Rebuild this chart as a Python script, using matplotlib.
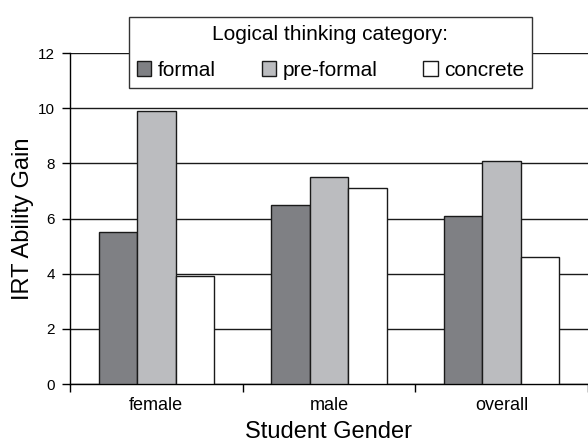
import numpy as np
import matplotlib.pyplot as plt
from matplotlib.patches import Patch

plt.rcParams['font.family'] = ['Liberation Sans', 'DejaVu Sans']

genders = ['female', 'male', 'overall']
categories = ['formal', 'pre-formal', 'concrete']
formal = [5.5, 6.5, 6.1]
pre_formal = [9.9, 7.5, 8.1]
concrete = [3.9, 7.1, 4.6]
colors = ['#7f8084', '#bbbcbf', '#ffffff']

fig = plt.figure(figsize=(5.88, 4.44), dpi=100)
ax = fig.add_axes([0.119, 0.135, 0.881, 0.7455])

x = np.arange(len(genders))
w = 0.223
series = [formal, pre_formal, concrete]
for i, vals in enumerate(series):
    ax.bar(x + (i - 1) * w, vals, width=w, color=colors[i],
           edgecolor='#1a1a1a', linewidth=1.0, zorder=3)

# grid lines
ax.set_ylim(0, 12)
ax.set_xlim(-0.5, 2.5)
ax.set_yticks(range(0, 13, 2))
ax.yaxis.grid(True, color='#1a1a1a', linewidth=1.0, zorder=0)
ax.set_axisbelow(True)

ax.set_xticks(x)
ax.set_xticklabels(genders, fontsize=13)
ax.set_xticks([-0.5, 0.5, 1.5, 2.5], minor=True)
ax.tick_params(axis='x', which='major', length=0, pad=9)
ax.tick_params(axis='x', which='minor', length=6, width=1, direction='out')
ax.tick_params(axis='y', length=6, width=1, labelsize=11, pad=5)

for s in ['top', 'right']:
    ax.spines[s].set_visible(False)
ax.spines['left'].set_linewidth(1)
ax.spines['bottom'].set_linewidth(1)

ax.set_ylabel('IRT Ability Gain', fontsize=17, labelpad=3)
ax.set_xlabel('Student Gender', fontsize=17, labelpad=5)

handles = [Patch(facecolor=colors[i], edgecolor='#1a1a1a', linewidth=1.0)
           for i in range(3)]
leg = fig.legend(handles, categories, loc='center', bbox_to_anchor=(0.562, 0.882),
                 ncol=3, fontsize=15, title='Logical thinking category:',
                 title_fontsize=15, fancybox=False, framealpha=1,
                 edgecolor='#333333', handlelength=0.7, handleheight=0.7,
                 handletextpad=0.3, columnspacing=2.2, borderpad=0.4,
                 labelspacing=0.8)
leg.get_frame().set_linewidth(1.0)
leg.set_zorder(10)

plt.savefig('out.png', dpi=100)
